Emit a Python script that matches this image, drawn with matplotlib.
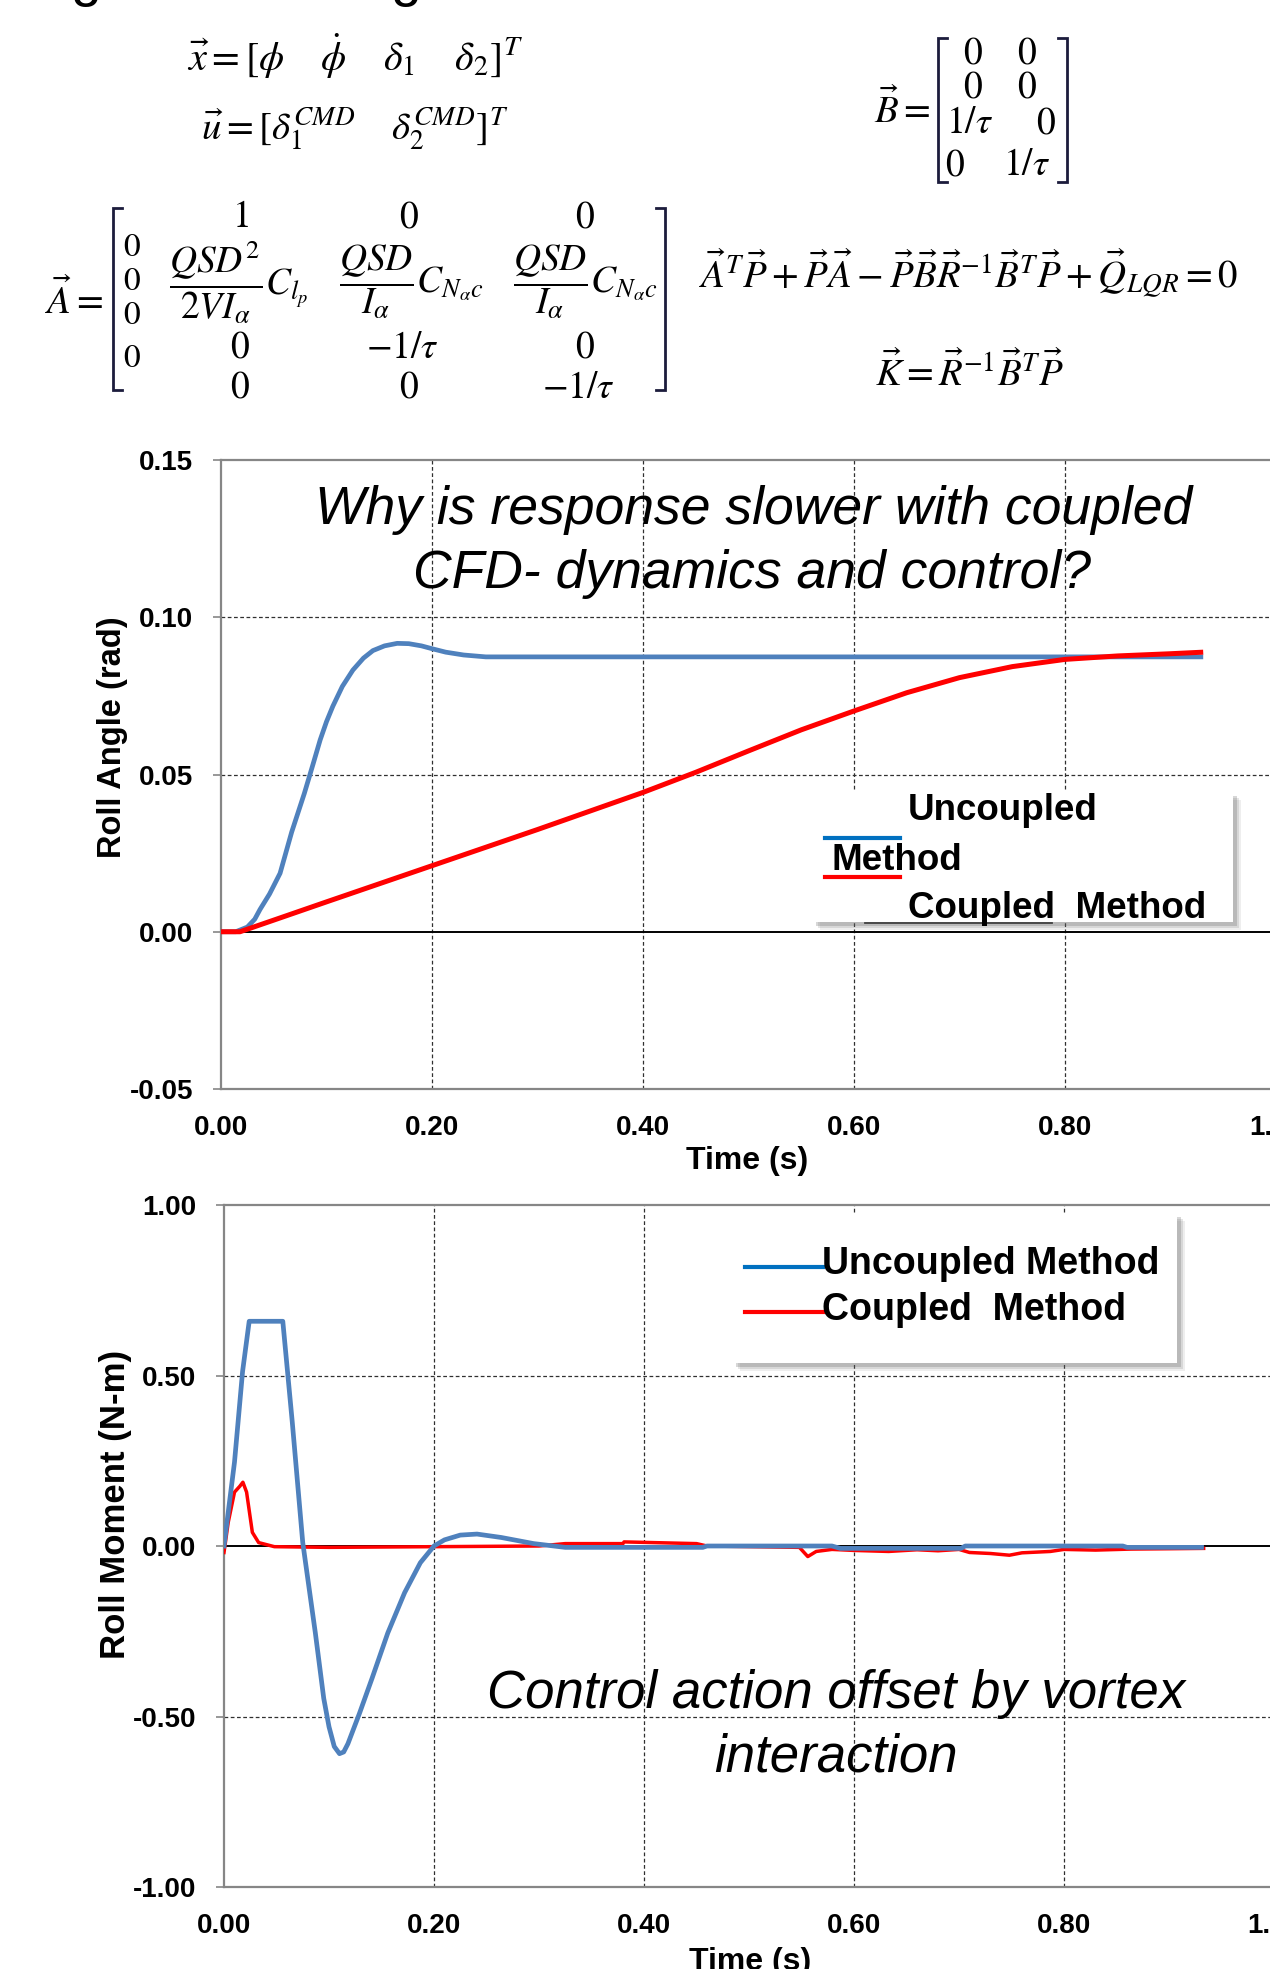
import numpy as np
import matplotlib
matplotlib.use('Agg')
import matplotlib.pyplot as plt
from matplotlib.lines import Line2D
from matplotlib.patches import Rectangle
from matplotlib.ticker import FuncFormatter

# ---- data ----
t_angle_unc = [0, 0.014, 0.025, 0.032, 0.037, 0.046, 0.056, 0.067, 0.079, 0.087, 0.094,
               0.1, 0.106, 0.115, 0.125, 0.135, 0.144, 0.155, 0.167, 0.178, 0.19, 0.2,
               0.213, 0.23, 0.251, 0.4, 0.6, 0.8, 0.931]
angle_unc = [0, 0, 0.0015, 0.004, 0.0071, 0.012, 0.0186, 0.0317, 0.044, 0.053, 0.061,
             0.0668, 0.0717, 0.078, 0.0832, 0.087, 0.0894, 0.0909, 0.0917, 0.0916, 0.0909,
             0.0900, 0.0889, 0.0880, 0.0874, 0.0874, 0.0874, 0.0874, 0.0874]

t_angle_cpl = [0, 0.018, 0.05, 0.1, 0.2, 0.3, 0.4, 0.45, 0.5, 0.55, 0.6, 0.65, 0.7,
               0.75, 0.8, 0.85, 0.9, 0.931]
angle_cpl = [0, 0, 0.0037, 0.0095, 0.021, 0.0325, 0.0443, 0.0507, 0.0575, 0.0642, 0.0702,
             0.0760, 0.0808, 0.0843, 0.0866, 0.0877, 0.0884, 0.0889]

t_mom_unc = [0, 0.01, 0.0177, 0.024, 0.056, 0.065, 0.075, 0.087, 0.095, 0.1, 0.105,
             0.110, 0.114, 0.118, 0.129, 0.141, 0.156, 0.172, 0.187, 0.2, 0.21, 0.225,
             0.241, 0.264, 0.295, 0.325, 0.456, 0.46, 0.579, 0.587, 0.702, 0.706, 0.856,
             0.86, 0.931]
mom_unc = [0, 0.246, 0.512, 0.659, 0.659, 0.364, 0.010, -0.255, -0.447, -0.53, -0.588,
           -0.609, -0.604, -0.580, -0.491, -0.388, -0.255, -0.137, -0.049, 0, 0.018, 0.032,
           0.035, 0.025, 0.007, -0.004, -0.004, 0.0, 0.0, -0.007, -0.007, 0.0, 0.0,
           -0.004, -0.004]

t_mom_cpl = [0, 0.004, 0.01, 0.015, 0.018, 0.0215, 0.027, 0.033, 0.048, 0.1, 0.15, 0.2,
             0.25, 0.3, 0.325, 0.38, 0.381, 0.45, 0.46, 0.548, 0.556, 0.564, 0.579, 0.6,
             0.633, 0.66, 0.68, 0.7, 0.71, 0.73, 0.748, 0.76, 0.787, 0.8, 0.83, 0.864, 0.9,
             0.933]
mom_cpl = [-0.019, 0.069, 0.158, 0.175, 0.187, 0.158, 0.04, 0.010, -0.002, -0.004, -0.003,
           -0.002, -0.001, 0.0, 0.007, 0.007, 0.012, 0.007, 0.0, -0.004, -0.031, -0.016,
           -0.010, -0.013, -0.016, -0.011, -0.014, -0.010, -0.019, -0.022, -0.027, -0.02,
           -0.016, -0.010, -0.012, -0.009, -0.008, -0.007]

x_ticks = [0.0, 0.2, 0.4, 0.6, 0.8, 1.0]
angle_ticks = [-0.05, 0.0, 0.05, 0.10, 0.15]
mom_ticks = [-1.0, -0.5, 0.0, 0.5, 1.0]

label_unc = 'Uncoupled Method'
label_cpl = 'Coupled  Method'

BLUE = '#4F81BD'
RED = '#FF0000'
GREY = '#868686'

plt.rcParams['font.family'] = ['Liberation Sans', 'DejaVu Sans']
plt.rcParams['mathtext.fontset'] = 'stix'

W, H = 1270, 1969
fig = plt.figure(figsize=(W / 100, H / 100), dpi=100)


def fx(x):
    return x / W


def fy(y):
    return 1 - y / H


def ftext(x, y, s, **kw):
    fig.text(fx(x), fy(y), s, **kw)


def fline(xs, ys, **kw):
    fig.add_artist(Line2D([fx(v) for v in xs], [fy(v) for v in ys],
                          transform=fig.transFigure, **kw))


def bracket(x, y0, y1, side):
    s = 9 if side == 'l' else -9
    fline([x + s, x, x, x + s], [y0, y0, y1, y1], color='#1c1c3c', lw=2.0,
          solid_joinstyle='miter')


# ---- cut-off text at the very top ----
for gx in (86, 406):
    ftext(gx, -5, 'g', fontsize=40, ha='center', va='baseline')

# ---- equations ----
EQ = 27
ftext(355, 56, r'$\vec{x}=[\phi\quad\;\dot{\phi}\quad\;\delta_1\quad\;\delta_2]^T$',
      fontsize=29, ha='center', va='center')
ftext(355, 129, r'$\vec{u}=[\delta_1^{CMD}\quad\;\delta_2^{CMD}]^T$',
      fontsize=28, ha='center', va='center')

# B matrix
ftext(930, 110, r'$\vec{B}=$', fontsize=28, ha='right', va='center')
bracket(938, 38, 182, 'l')
bracket(1067, 38, 182, 'r')
B_cells = [(973, 54, '0'), (1027, 54, '0'), (973, 88, '0'), (1027, 88, '0'),
           (970, 123, r'1/\tau'), (1046, 123, '0'), (955, 165, '0'), (1027, 165, r'1/\tau')]
for cx, cy, s in B_cells:
    ftext(cx, cy, '$' + s + '$', fontsize=EQ, ha='center', va='center')

# A matrix
ftext(103, 300, r'$\vec{A}=$', fontsize=28, ha='right', va='center')
bracket(113, 208, 390, 'l')
bracket(665, 208, 390, 'r')
for cy in (248, 282, 316, 358):
    ftext(132, cy, '$0$', fontsize=24, ha='center', va='center')
A_cells = [(240, 217, '1'), (409, 217, '0'), (585, 217, '0'),
           (239, 282, r'\dfrac{QSD^2}{2VI_\alpha}C_{l_p}'),
           (411, 282, r'\dfrac{QSD}{I_\alpha}C_{N_\alpha c}'),
           (585, 282, r'\dfrac{QSD}{I_\alpha}C_{N_\alpha c}'),
           (240, 348, '0'), (402, 348, r'-1/\tau'), (585, 348, '0'),
           (240, 388, '0'), (409, 388, '0'), (578, 388, r'-1/\tau')]
for cx, cy, s in A_cells:
    ftext(cx, cy, '$' + s + '$', fontsize=EQ, ha='center', va='center')

ftext(968, 273, r'$\vec{A}^T\vec{P}+\vec{P}\vec{A}-\vec{P}\vec{B}\vec{R}^{-1}\vec{B}^T\vec{P}'
      r'+\vec{Q}_{LQR}=0$', fontsize=28, ha='center', va='center')
ftext(969, 373, r'$\vec{K}=\vec{R}^{-1}\vec{B}^T\vec{P}$', fontsize=28,
      ha='center', va='center')


# ---- axes helper ----
def style_axes(ax, yticks, ylim, grid_y):
    ax.set_xlim(0, 1.0)
    ax.set_ylim(*ylim)
    ax.set_xticks(x_ticks)
    ax.set_yticks(yticks)
    fmt = FuncFormatter(lambda v, p: '%.2f' % v)
    ax.xaxis.set_major_formatter(fmt)
    ax.yaxis.set_major_formatter(fmt)
    ax.tick_params(axis='y', length=6, width=1.2, color=GREY, pad=14, labelsize=20)
    ax.tick_params(axis='x', length=0, pad=19, labelsize=20)
    for lbl in ax.get_xticklabels() + ax.get_yticklabels():
        lbl.set_fontweight('bold')
    for side in ('left', 'top', 'bottom'):
        ax.spines[side].set_color(GREY)
        ax.spines[side].set_linewidth(1.6)
    ax.spines['right'].set_visible(False)
    for v in x_ticks[1:-1]:
        ax.axvline(v, color='#303030', lw=0.9, ls=(0, (3, 2)), zorder=1)
    for v in grid_y:
        ax.axhline(v, color='#303030', lw=0.9, ls=(0, (3, 2)), zorder=1)
    ax.axhline(0, color='black', lw=1.4, zorder=1.5)


def legend_box(x0, y0, x1, y1):
    for i, a in enumerate((0.10, 0.16, 0.25)):
        off = 8 - 2 * i
        fig.add_artist(Rectangle((fx(x0 + off), fy(y1 + off)), (x1 - x0) / W, (y1 - y0) / H,
                                 transform=fig.transFigure, facecolor='#606060',
                                 edgecolor='none', alpha=a, zorder=4))
    fig.add_artist(Rectangle((fx(x0), fy(y1)), (x1 - x0) / W, (y1 - y0) / H,
                             transform=fig.transFigure, facecolor='white',
                             edgecolor='none', zorder=5))


# ---- top chart: roll angle ----
ax1 = fig.add_axes([fx(221), fy(1089), 1055 / W, 629 / H])
style_axes(ax1, angle_ticks, (-0.05, 0.15), [0.05, 0.10])
ax1.plot(t_angle_unc, angle_unc, color=BLUE, lw=3.4, zorder=3, solid_capstyle='butt')
ax1.plot(t_angle_cpl, angle_cpl, color=RED, lw=3.6, zorder=3.5, solid_capstyle='butt')
ax1.set_xlabel('Time (s)', fontsize=23, fontweight='bold')
ax1.xaxis.set_label_coords(0.4986, -57 / 629)
ftext(112, 737, 'Roll Angle (rad)', fontsize=23.5, fontweight='bold', rotation=90,
      ha='center', va='center')
ax1.text(0.505, (1089 - 524) / 629, 'Why is response slower with coupled',
         transform=ax1.transAxes, fontsize=38.5, style='italic', ha='center', va='baseline')
ax1.text(0.503, (1089 - 588) / 629, 'CFD- dynamics and control?',
         transform=ax1.transAxes, fontsize=38.5, style='italic', ha='center', va='baseline')

# wrapped legend of the top chart
legend_box(812, 792, 1233, 922)
ftext(908, 820, 'Uncoupled', fontsize=26.5, fontweight='bold', va='baseline', zorder=6)
ftext(832, 870, 'Method', fontsize=26.5, fontweight='bold', va='baseline', zorder=6)
ftext(908, 918, label_cpl, fontsize=26.5, fontweight='bold', va='baseline', zorder=6)
fline([825, 900], [838, 838], color='#0070C0', lw=3, zorder=6)
fline([825, 900], [877, 877], color=RED, lw=3, zorder=6)
fline([865, 1052], [923, 923], color='#404040', lw=1.3, zorder=6)

# ---- bottom chart: roll moment ----
ax2 = fig.add_axes([fx(224), fy(1887), 1050 / W, 682 / H])
style_axes(ax2, mom_ticks, (-1.0, 1.0), [0.5, -0.5])
ax2.plot(t_mom_cpl, mom_cpl, color=RED, lw=2.5, zorder=3)
ax2.plot(t_mom_unc, mom_unc, color=BLUE, lw=3.4, zorder=3.5)
ax2.set_xlabel('Time (s)', fontsize=23, fontweight='bold')
ax2.xaxis.set_label_coords(0.501, -60 / 682)
ftext(115, 1504, 'Roll Moment (N-m)', fontsize=25, fontweight='bold', rotation=90,
      ha='center', va='center')
ax2.text(0.583, (1887 - 1708) / 682, 'Control action offset by vortex',
         transform=ax2.transAxes, fontsize=38, style='italic', ha='center', va='baseline')
ax2.text(0.583, (1887 - 1771) / 682, 'interaction',
         transform=ax2.transAxes, fontsize=38, style='italic', ha='center', va='baseline')

legend_box(732, 1213, 1177, 1363)
fline([745, 823], [1267, 1267], color='#0070C0', lw=3, zorder=6)
fline([745, 823], [1312, 1312], color=RED, lw=3, zorder=6)
ftext(822, 1274, label_unc, fontsize=27, fontweight='bold', va='baseline', zorder=6)
ftext(822, 1320, label_cpl, fontsize=27, fontweight='bold', va='baseline', zorder=6)

fig.savefig('out.png', dpi=100)
